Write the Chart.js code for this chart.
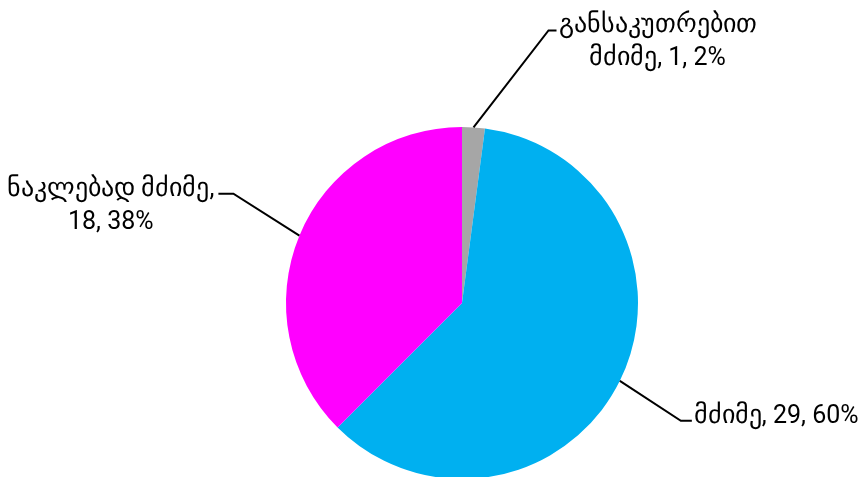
<!DOCTYPE html>
<html>
<head>
<meta charset="utf-8">
<script src="https://cdn.jsdelivr.net/npm/chart.js@4"></script>
<style>
  html, body { margin: 0; padding: 0; background: #fff; }
  #wrap { width: 867px; height: 477px; position: relative; }
  @font-face {
    font-family: "GeoLabel";
    src: local("DejaVu Sans");
    unicode-range: U+10A0-10FF;
    size-adjust: 104%;
  }
</style>
</head>
<body>
<div id="wrap"><canvas id="c" width="867" height="477"></canvas></div>
<script>
// ---- data ----
const categories = ['განსაკუთრებით მძიმე', 'მძიმე', 'ნაკლებად მძიმე'];
const values = [1, 29, 18];
const sliceColors = ['#A6A6A6', '#00B0F0', '#FF00FF'];

// ---- label layout (styling only) ----
const leaderElbow = [[75, -97], [61, 40], [-66, -42]]; // elbow offset from slice edge
const leaderTail = [8, 11, -15];                      // horizontal segment after the elbow
const labelFont = '25px GeoLabel, Roboto, "DejaVu Sans", sans-serif';
const labelWrap = 225;
const lineHeight = 33;

const total = values.reduce((a, b) => a + b, 0);

function wrapText(ctx, text, maxW) {
  const words = text.split(' ');
  const lines = [];
  let cur = '';
  for (const w of words) {
    const t = cur ? cur + ' ' + w : w;
    if (cur && ctx.measureText(t).width > maxW) { lines.push(cur); cur = w; }
    else cur = t;
  }
  if (cur) lines.push(cur);
  return lines;
}

const leaderLabels = {
  id: 'leaderLabels',
  afterDatasetsDraw(chart) {
    const ctx = chart.ctx;
    const meta = chart.getDatasetMeta(0);
    ctx.save();
    ctx.font = labelFont;
    ctx.fillStyle = '#000';
    ctx.strokeStyle = '#000';
    ctx.lineWidth = 2;
    meta.data.forEach((arc, i) => {
      const p = arc.getProps(['x', 'y', 'startAngle', 'endAngle', 'outerRadius'], true);
      const mid = (p.startAngle + p.endAngle) / 2;
      const ax = p.x + Math.cos(mid) * p.outerRadius;
      const ay = p.y + Math.sin(mid) * p.outerRadius;
      const ex = ax + leaderElbow[i][0];
      const ey = ay + leaderElbow[i][1];
      const hx = ex + leaderTail[i];
      ctx.beginPath();
      ctx.moveTo(ax, ay);
      ctx.lineTo(ex, ey);
      ctx.lineTo(hx, ey);
      ctx.stroke();
      const pct = Math.round(values[i] / total * 100);
      const text = categories[i] + ', ' + values[i] + ', ' + pct + '%';
      const lines = wrapText(ctx, text, labelWrap);
      const maxW = Math.max(...lines.map(l => ctx.measureText(l).width));
      const right = leaderTail[i] > 0;
      const cx = right ? hx + 2 + maxW / 2 : hx - 4 - maxW / 2;
      ctx.textAlign = 'center';
      ctx.textBaseline = 'alphabetic';
      lines.forEach((l, k) => {
        ctx.fillText(l, cx, ey + 2 + k * lineHeight);
      });
    });
    ctx.restore();
  }
};

function build() {
  new Chart(document.getElementById('c'), {
    type: 'pie',
    data: {
      labels: categories,
      datasets: [{
        data: values,
        backgroundColor: sliceColors,
        borderWidth: 0,
        radius: 176,
        clip: false
      }]
    },
    options: {
      responsive: false,
      animation: false,
      layout: { padding: { top: 129, bottom: 0, left: 57, right: 0 } },
      plugins: {
        legend: { display: false },
        tooltip: { enabled: false }
      }
    },
    plugins: [leaderLabels]
  });
}

Promise.all([
  document.fonts.load('25px GeoLabel', 'ა'),
  document.fonts.load('25px Roboto', '0')
]).catch(() => {}).then(build);
</script>
</body>
</html>
